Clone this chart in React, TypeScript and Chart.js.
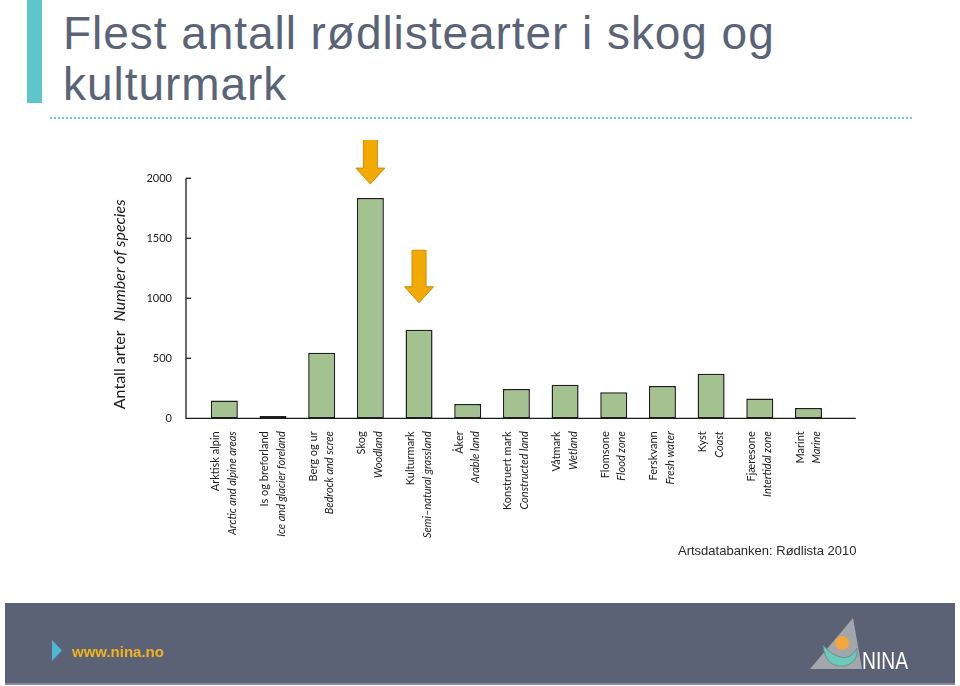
import React, { useEffect, useRef } from "react";
import { Chart, registerables } from "chart.js";

Chart.register(...registerables);

// ---- data ----
const categoriesNo = [
  "Arktisk alpin", "Is og breforland", "Berg og ur", "Skog", "Kulturmark", "Åker",
  "Konstruert mark", "Våtmark", "Flomsone", "Ferskvann", "Kyst", "Fjæresone", "Marint",
];
const categoriesEn = [
  "Arctic and alpine areas", "Ice and glacier foreland", "Bedrock and scree", "Woodland",
  "Semi–natural grassland", "Arable land", "Constructed land", "Wetland", "Flood zone",
  "Fresh water", "Coast", "Intertidal zone", "Marine",
];
const speciesCounts = [148, 20, 546, 1835, 738, 120, 245, 279, 218, 270, 371, 164, 86];
const yTicks = [0, 500, 1000, 1500, 2000];
const highlightedCategories = ["Skog", "Kulturmark"];
const yTitleNo = "Antall arter";
const yTitleEn = "Number of species";
const titleText = "Flest antall rødlistearter i skog og kulturmark";
const sourceText = "Artsdatabanken: Rødlista 2010";

const LABEL_FONT = "Lato, 'Open Sans', sans-serif";

const slidePlugin = {
  id: "slideDecor",
  afterDatasetsDraw(chart: any) {
    const { ctx, chartArea, scales } = chart;
    const xs = scales.x;
    const ys = scales.y;
    const axisX = chartArea.left - 14;
    const base = ys.getPixelForValue(0);
    const top = ys.getPixelForValue(yTicks[yTicks.length - 1]);
    ctx.save();
    // axes
    ctx.strokeStyle = "#1c1c1c";
    ctx.lineWidth = 1.3;
    ctx.beginPath();
    ctx.moveTo(axisX, top);
    ctx.lineTo(axisX, base);
    ctx.lineTo(chartArea.right + 23, base);
    ctx.stroke();
    // inward tick marks
    yTicks.forEach((v) => {
      if (v === 0) return;
      const y = ys.getPixelForValue(v);
      ctx.beginPath();
      ctx.moveTo(axisX, y);
      ctx.lineTo(axisX + 5, y);
      ctx.stroke();
    });
    // x labels (rotated, two lines)
    ctx.fillStyle = "#1a1a1a";
    ctx.textBaseline = "middle";
    ctx.textAlign = "right";
    categoriesNo.forEach((no, i) => {
      const cx = xs.getPixelForValue(i);
      ctx.save();
      ctx.translate(cx - 8.5, base + 13);
      ctx.rotate(-Math.PI / 2);
      ctx.font = `11px ${LABEL_FONT}`;
      ctx.fillText(no, 0, 0);
      ctx.restore();
      ctx.save();
      ctx.translate(cx + 8, base + 13);
      ctx.rotate(-Math.PI / 2);
      ctx.font = `italic 11px ${LABEL_FONT}`;
      ctx.fillText(categoriesEn[i], 0, 0);
      ctx.restore();
    });
    // y title
    ctx.save();
    ctx.translate(chartArea.left - 80, (top + base) / 2 + 6);
    ctx.rotate(-Math.PI / 2);
    ctx.textAlign = "left";
    ctx.font = `16px ${LABEL_FONT}`;
    const w1 = ctx.measureText(yTitleNo).width;
    ctx.font = `italic 16px ${LABEL_FONT}`;
    const w2 = ctx.measureText(yTitleEn).width;
    const gap = 9;
    const start = -(w1 + gap + w2) / 2;
    ctx.font = `16px ${LABEL_FONT}`;
    ctx.fillText(yTitleNo, start, 0);
    ctx.font = `italic 16px ${LABEL_FONT}`;
    ctx.fillText(yTitleEn, start + w1 + gap, 0);
    ctx.restore();
    // arrows above highlighted bars
    const meta = chart.getDatasetMeta(0);
    const gaps = [14, 27];
    highlightedCategories.forEach((cat, k) => {
      const idx = categoriesNo.indexOf(cat);
      const bar = meta.data[idx];
      const cx = bar.x;
      const tip = bar.y - gaps[k];
      const headH = 16;
      const shaftL = 36.5;
      const headW = 14.5;
      const shaftW = 7;
      ctx.beginPath();
      ctx.moveTo(cx - shaftW, tip - headH - shaftL);
      ctx.lineTo(cx + shaftW, tip - headH - shaftL);
      ctx.lineTo(cx + shaftW, tip - headH);
      ctx.lineTo(cx + headW, tip - headH);
      ctx.lineTo(cx, tip);
      ctx.lineTo(cx - headW, tip - headH);
      ctx.lineTo(cx - shaftW, tip - headH);
      ctx.closePath();
      ctx.fillStyle = "#f2aa00";
      ctx.fill();
      ctx.strokeStyle = "#c98c10";
      ctx.lineWidth = 1;
      ctx.stroke();
    });
    ctx.restore();
  },
};

function BarChart() {
  const ref = useRef<HTMLCanvasElement | null>(null);
  useEffect(() => {
    if (!ref.current) return;
    const chart = new Chart(ref.current, {
      type: "bar",
      data: {
        labels: categoriesNo,
        datasets: [
          {
            data: speciesCounts,
            backgroundColor: "#a3c28f",
            borderColor: "#1e1e1e",
            borderWidth: 1.5,
            borderSkipped: false,
            barPercentage: 0.555,
            categoryPercentage: 1,
          },
        ],
      },
      options: {
        responsive: false,
        animation: false,
        events: [],
        layout: { padding: { left: 0, right: 57.2, top: 38.3, bottom: 141.7 } },
        plugins: { legend: { display: false }, tooltip: { enabled: false }, title: { display: false } },
        scales: {
          x: {
            display: false,
            offset: true,
          },
          y: {
            min: 0,
            max: 2000,
            afterFit: (s: any) => {
              s.width = 100;
            },
            afterBuildTicks: (s: any) => {
              s.ticks = yTicks.map((v) => ({ value: v }));
            },
            ticks: {
              padding: 28,
              color: "#1a1a1a",
              font: { family: LABEL_FONT, size: 11 },
              callback: (v: any) => String(v),
            },
            grid: { display: false, drawTicks: false },
            border: { display: false },
          },
        },
      },
      plugins: [slidePlugin],
    });
    return () => chart.destroy();
  }, []);
  return (
    <canvas
      ref={ref}
      width={790}
      height={420}
      style={{ position: "absolute", left: 100, top: 140, width: 790, height: 420 }}
    />
  );
}

export default function App() {
  return (
    <div
      style={{
        position: "fixed",
        left: 0,
        top: 0,
        width: 960,
        height: 686,
        background: "#ffffff",
        overflow: "hidden",
        fontFamily: "'Liberation Sans', Arial, sans-serif",
      }}
    >
      <div style={{ position: "absolute", left: 27, top: 0, width: 15, height: 103, background: "#5ec5cc" }} />
      <div
        style={{
          position: "absolute",
          left: 63,
          top: 8,
          width: 760,
          fontSize: 46,
          lineHeight: "51px",
          letterSpacing: 0.95,
          color: "#5b6377",
        }}
      >
        {titleText}
      </div>
      <div
        style={{
          position: "absolute",
          left: 50,
          top: 117,
          width: 862,
          height: 0,
          borderTop: "2px dotted #6ccbd0",
        }}
      />
      <BarChart />
      <div
        style={{
          position: "absolute",
          left: 678,
          top: 544,
          fontSize: 13,
          lineHeight: "13px",
          color: "#2a2a2a",
          whiteSpace: "nowrap",
        }}
      >
        {sourceText}
      </div>
      <div
        style={{
          position: "absolute",
          left: 5,
          top: 603,
          width: 950,
          height: 80,
          background: "#5b6276",
          borderBottom: "2px solid #868b98",
        }}
      />
      <svg
        width={960}
        height={686}
        style={{ position: "absolute", left: 0, top: 0, pointerEvents: "none" }}
      >
        <polygon points="52,640 62,650.5 52,661" fill="#4cb8d4" />
        <text
          x={72}
          y={657}
          fontFamily="'Liberation Sans', Arial, sans-serif"
          fontWeight="bold"
          fontSize={15}
          fill="#f2b321"
        >
          www.nina.no
        </text>
        <polygon points="810,669 862,669 853,618" fill="#a3a6ab" />
        <path
          d="M823,645 Q825,668 845,666 Q859,662 857,648 Q851,660 840,657 Q830,654 823,645 Z"
          fill="#6dcab8"
          stroke="#5b8a88"
          strokeWidth={0.8}
        />
        <circle cx={842} cy={643} r={7} fill="#f4a63a" />
        <text
          x={862}
          y={668.5}
          fontFamily="'Liberation Sans', Arial, sans-serif"
          fontSize={23}
          fill="#ffffff"
          textLength={46}
          lengthAdjust="spacingAndGlyphs"
        >
          NINA
        </text>
      </svg>
    </div>
  );
}
